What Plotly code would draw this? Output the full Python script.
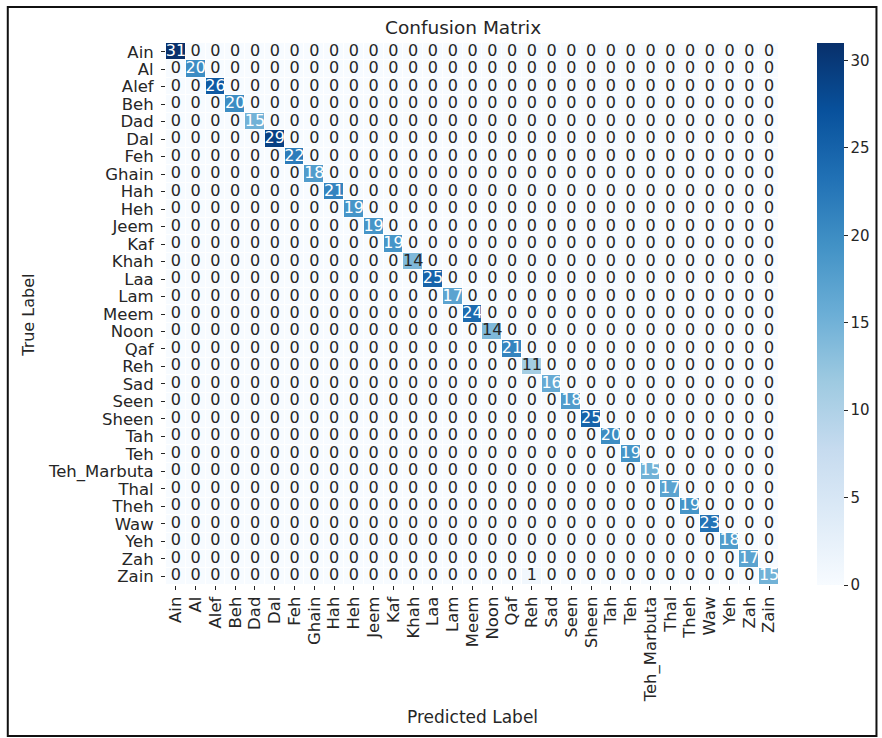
import plotly.graph_objects as go

labels = ["Ain", "Al", "Alef", "Beh", "Dad", "Dal", "Feh", "Ghain", "Hah", "Heh",
          "Jeem", "Kaf", "Khah", "Laa", "Lam", "Meem", "Noon", "Qaf", "Reh", "Sad",
          "Seen", "Sheen", "Tah", "Teh", "Teh_Marbuta", "Thal", "Theh", "Waw", "Yeh",
          "Zah", "Zain"]
diagonal = [31, 20, 26, 20, 15, 29, 22, 18, 21, 19, 19, 19, 14, 25, 17, 24, 14, 21,
            11, 16, 18, 25, 20, 19, 15, 17, 19, 23, 18, 17, 15]
# off-diagonal errors: (true label, predicted label, count)
off_diagonal = [("Zain", "Reh", 1)]
colorbar_ticks = [0, 5, 10, 15, 20, 25, 30]

n = len(labels)
z = [[0] * n for _ in range(n)]
for i, v in enumerate(diagonal):
    z[i][i] = v
for t, p, c in off_diagonal:
    z[labels.index(t)][labels.index(p)] = c

INK = "#262626"
FONT = "DejaVu Sans"

fig = go.Figure()
fig.add_trace(go.Heatmap(
    z=z, x=labels, y=labels,
    colorscale="Blues", zmin=0, zmax=31,
    xgap=1, ygap=1,
    colorbar=dict(
        x=1.0617, xanchor="left", y=0.5, yanchor="middle",
        len=1.0, lenmode="fraction", thickness=27,
        xpad=0, ypad=0, outlinewidth=0,
        tickmode="array", tickvals=colorbar_ticks,
        ticks="outside", ticklen=4, tickcolor=INK,
        tickfont=dict(family=FONT, size=15, color=INK),
    ),
    hoverinfo="skip",
))

tx, ty, tt, tc = [], [], [], []
for i, row in enumerate(z):
    for j, v in enumerate(row):
        tx.append(labels[j])
        ty.append(labels[i])
        tt.append(str(v))
        tc.append("white" if v >= 15 else INK)
fig.add_trace(go.Scatter(
    x=tx, y=ty, text=tt, mode="text",
    textfont=dict(family=FONT, size=16, color=tc),
    hoverinfo="skip", showlegend=False,
))

fig.update_layout(
    width=882, height=738,
    margin=dict(l=166, r=100, t=43, b=153),
    paper_bgcolor="white", plot_bgcolor="white",
    showlegend=False,
    font=dict(family=FONT, color=INK),
    xaxis=dict(
        type="category", categoryorder="array", categoryarray=labels,
        range=[-0.5, n - 0.5],
        tickmode="array", tickvals=labels, ticktext=labels,
        tickangle=-90, ticks="outside", ticklen=4, tickcolor=INK,
        tickfont=dict(family=FONT, size=16.5, color=INK),
        showgrid=False, zeroline=False, showline=False,
        automargin=False,
    ),
    yaxis=dict(
        type="category", categoryorder="array", categoryarray=labels,
        range=[n - 0.5, -0.5],
        tickmode="array", tickvals=labels, ticktext=labels,
        ticks="outside", ticklen=4, tickcolor=INK,
        ticklabelstandoff=4,
        tickfont=dict(family=FONT, size=16.5, color=INK),
        showgrid=False, zeroline=False, showline=False,
        automargin=False,
    ),
    annotations=[
        dict(text="Confusion Matrix", xref="paper", yref="paper",
             x=0.4838, y=1.0277, xanchor="center", yanchor="middle",
             showarrow=False, font=dict(family=FONT, size=18.5, color=INK)),
        dict(text="True Label", xref="paper", yref="paper",
             x=-0.2256, y=0.498, xanchor="center", yanchor="middle",
             textangle=-90, showarrow=False,
             font=dict(family=FONT, size=16, color=INK)),
        dict(text="Predicted Label", xref="paper", yref="paper",
             x=0.5, y=-0.2435, xanchor="center", yanchor="middle",
             showarrow=False, font=dict(family=FONT, size=17, color=INK)),
    ],
    shapes=[
        dict(type="rect", xref="paper", yref="paper",
             x0=-0.2581, x1=1.159, y0=-0.2786, y1=1.0664,
             line=dict(color="#111111", width=2), fillcolor="rgba(0,0,0,0)"),
    ],
)

fig.write_html("out.html", config={"displayModeBar": False},
               post_script="document.body.style.margin='0';")
